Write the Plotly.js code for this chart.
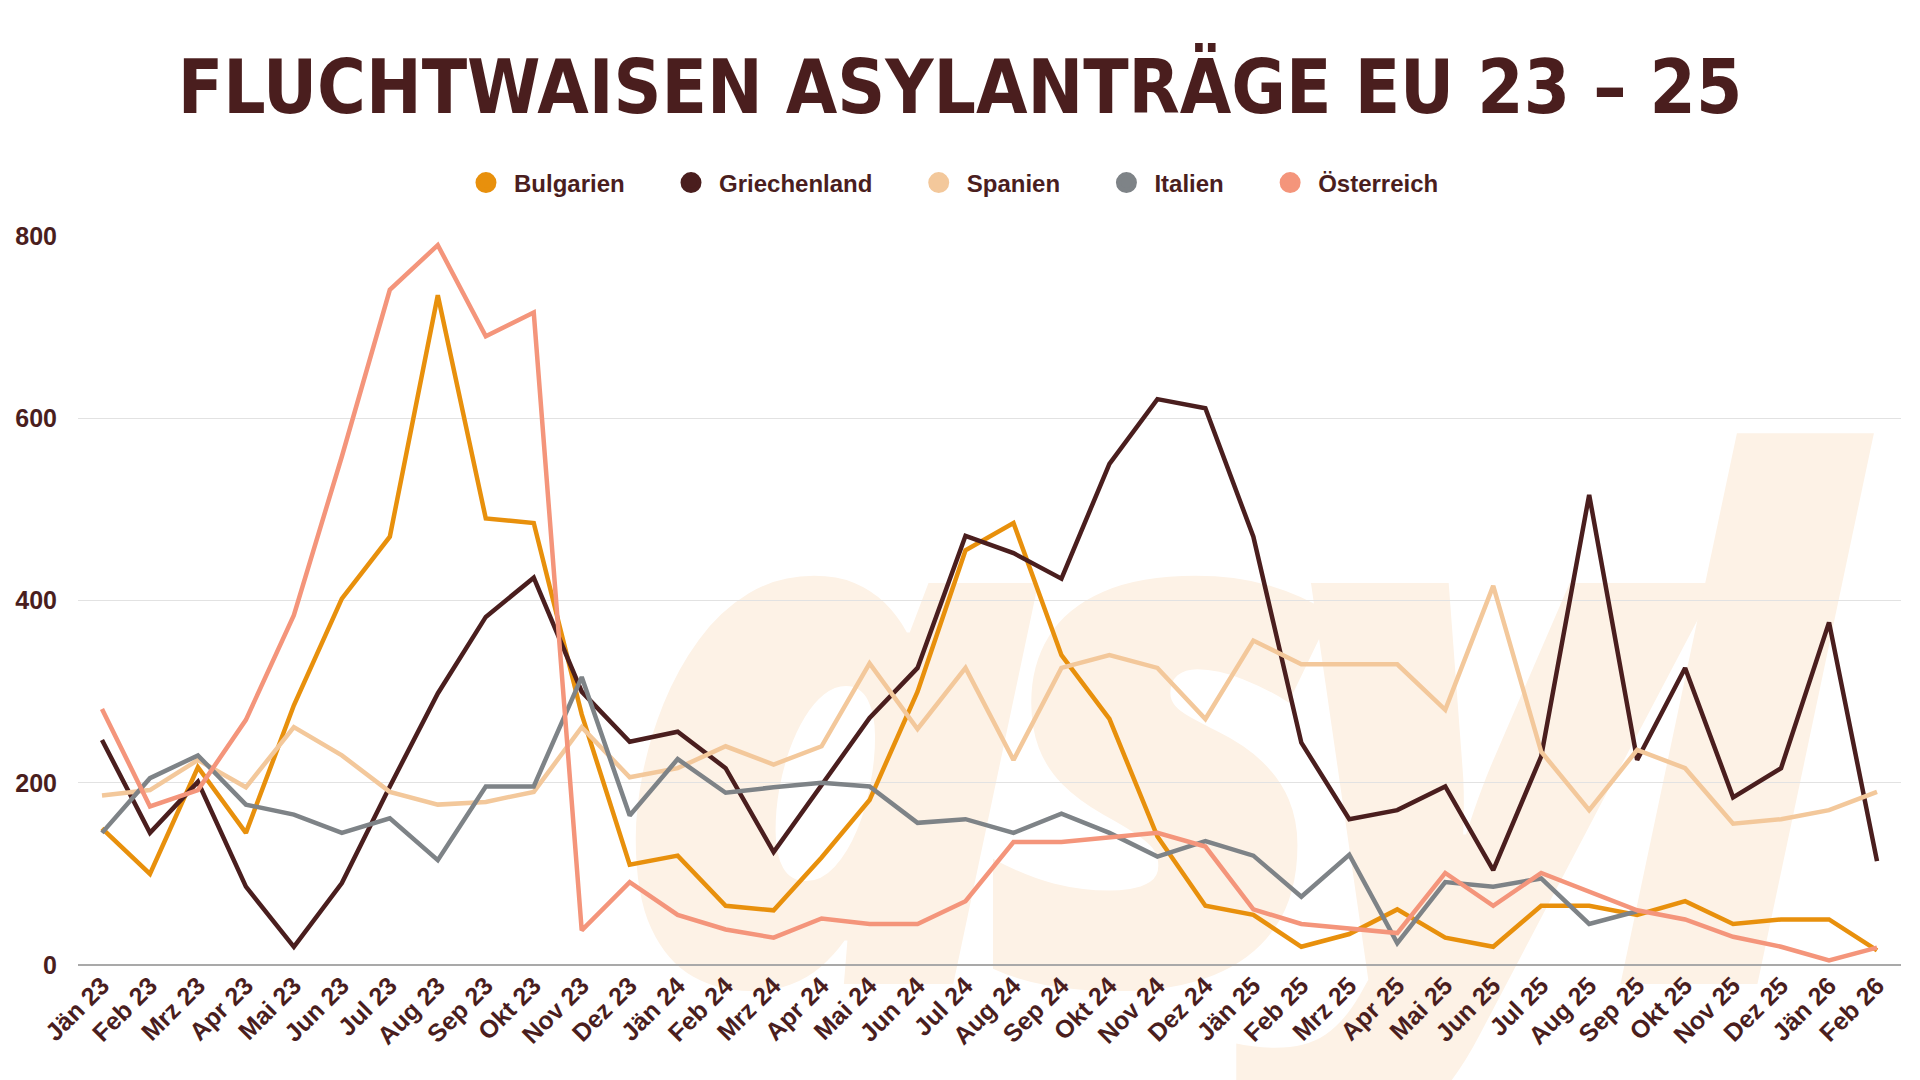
<!DOCTYPE html>
<html>
<head>
<meta charset="utf-8">
<script src="https://cdn.plot.ly/plotly-3.0.1.min.js"></script>
<style>
  html, body { margin:0; padding:0; background:#ffffff; }
  #wrap { position:relative; width:1920px; height:1080px; overflow:hidden; background:#ffffff; }
  #wm { position:absolute; left:606px; top:340px; font-family:'Open Sans', sans-serif; font-weight:800; font-style:italic;
        font-size:725px; line-height:1; color:#FDF2E6; letter-spacing:-64px; white-space:nowrap; z-index:0; user-select:none; }
  #chart { position:absolute; left:0; top:0; width:1920px; height:1080px; z-index:1; }
</style>
</head>
<body>
<div id="wrap">
  <div id="wm">asyl</div>
  <div id="chart"></div>
</div>
<script>
const months = ["Jän 23","Feb 23","Mrz 23","Apr 23","Mai 23","Jun 23","Jul 23","Aug 23","Sep 23","Okt 23","Nov 23","Dez 23",
                "Jän 24","Feb 24","Mrz 24","Apr 24","Mai 24","Jun 24","Jul 24","Aug 24","Sep 24","Okt 24","Nov 24","Dez 24",
                "Jän 25","Feb 25","Mrz 25","Apr 25","Mai 25","Jun 25","Jul 25","Aug 25","Sep 25","Okt 25","Nov 25","Dez 25",
                "Jän 26","Feb 26"];

const bulgarien = [150,100,217,145,285,402,470,735,490,485,275,110,
                   120,65,60,118,181,300,455,485,340,270,141,65,
                   55,20,34,61,30,20,65,65,55,70,45,50,
                   50,16];
const griechenland = [247,145,201,86,20,90,196,298,382,425,300,245,
                      256,216,124,198,271,326,471,452,424,550,621,611,
                      470,244,160,170,196,104,229,516,225,326,184,216,
                      376,114];
const spanien = [186,192,225,195,261,230,190,176,179,190,261,206,
                 216,240,220,240,331,259,326,225,326,340,326,270,
                 356,330,330,330,280,416,234,170,236,216,155,160,
                 170,190];
const italien = [145,205,230,176,165,145,161,115,196,196,316,164,
                 226,189,195,200,196,156,160,145,166,145,119,136,
                 120,75,121,24,91,86,95,45,59,null,null,null,
                 null,null];
const oesterreich = [281,174,192,269,384,558,741,790,690,716,38,91,
                     55,39,30,51,45,45,70,135,135,140,145,130,
                     61,45,40,35,101,65,101,80,60,50,31,20,
                     5,19];

const seriesNames = ["Bulgarien","Griechenland","Spanien","Italien","Österreich"];
const seriesData = [bulgarien, griechenland, spanien, italien, oesterreich];
const seriesColors = ["#E8900C","#4A1E1E","#F3C89B","#7E8387","#F4957B"];

const yTicks = [0,200,400,600,800];
const darkText = "#4A1E1E";
const legendPad = "\u00A0\u00A0\u00A0\u00A0\u00A0";

const traces = [];
seriesNames.forEach((name, i) => {
  traces.push({
    type: "scatter", mode: "lines", name: name,
    x: months, y: seriesData[i],
    line: {color: seriesColors[i], width: 4.5},
    connectgaps: false, showlegend: false, hoverinfo: "x+y+name"
  });
});
seriesNames.forEach((name, i) => {
  traces.push({
    type: "scatter", mode: "markers", name: name + (i < seriesNames.length - 1 ? legendPad : ""),
    x: [months[0]], y: [null],
    marker: {color: seriesColors[i], size: 16, symbol: "circle", line: {color: seriesColors[i], width: 5}},
    showlegend: true, hoverinfo: "skip"
  });
});

const layout = {
  width: 1920, height: 1080,
  paper_bgcolor: "rgba(0,0,0,0)", plot_bgcolor: "rgba(0,0,0,0)",
  margin: {l: 78, r: 19, t: 236, b: 115, pad: 0},
  title: {
    text: "FLUCHTWAISEN ASYLANTRÄGE EU 23 – 25",
    font: {family: "DejaVu Sans Condensed, Liberation Sans, sans-serif", size: 74, weight: 700, color: darkText},
    x: 0.5, xanchor: "center", xref: "container",
    y: 0.9194, yanchor: "middle", yref: "container"
  },
  showlegend: true,
  legend: {
    orientation: "h", xref: "container", yref: "container",
    x: 0.4953, xanchor: "center", y: 0.8306, yanchor: "middle",
    font: {family: "Liberation Sans, Arial, sans-serif", size: 24, weight: 700, color: darkText},
    bgcolor: "rgba(0,0,0,0)", itemwidth: 46, traceorder: "normal"
  },
  xaxis: {
    type: "category", range: [-0.5, 37.5], fixedrange: true,
    showgrid: false, zeroline: false, showline: false, ticks: "",
    tickangle: -45,
    tickfont: {family: "Liberation Sans, Arial, sans-serif", size: 25, weight: 700, color: darkText}
  },
  yaxis: {
    range: [0, 800], fixedrange: true,
    tickvals: yTicks, ticktext: yTicks.map(String),
    showgrid: true, gridcolor: "#E2E2E2", gridwidth: 1,
    zeroline: true, zerolinecolor: "#A9A9A9", zerolinewidth: 1.5,
    showline: false, ticks: "", ticklabelstandoff: 20,
    tickfont: {family: "Liberation Sans, Arial, sans-serif", size: 25, weight: 700, color: darkText}
  }
};

Plotly.newPlot("chart", traces, layout, {displayModeBar: false, responsive: false});
</script>
</body>
</html>
